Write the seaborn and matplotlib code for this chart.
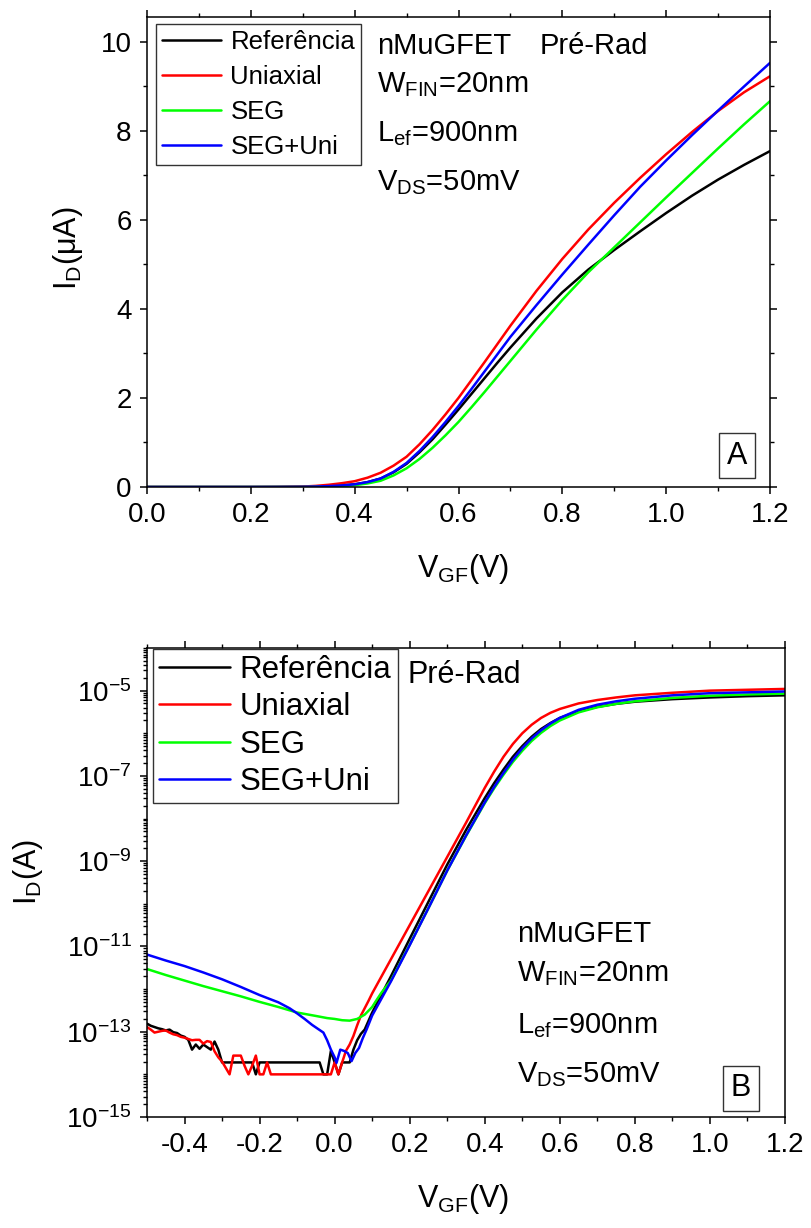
import numpy as np
import pandas as pd
import matplotlib
matplotlib.use("Agg")
import matplotlib.pyplot as plt
import matplotlib.ticker as mticker
from matplotlib.lines import Line2D
import seaborn as sns

# ---------------- data ----------------
labels = ["Referência", "Uniaxial", "SEG", "SEG+Uni"]
colors = ["#000000", "#ff0000", "#00ff00", "#0000ff"]

# Panel A : linear I_D (uA) vs V_GF (V)
vgf_lin = [0.00, 0.05, 0.10, 0.15, 0.20, 0.25, 0.30, 0.325, 0.35, 0.375, 0.40, 0.425, 0.45,
           0.475, 0.50, 0.525, 0.55, 0.575, 0.60, 0.625, 0.65, 0.675, 0.70, 0.75, 0.80,
           0.85, 0.90, 0.95, 1.00, 1.05, 1.10, 1.15, 1.20]
id_ref_lin = [0, 0, 0, 0, 0, 0.001, 0.004, 0.01, 0.02, 0.035, 0.06, 0.11, 0.19,
              0.33, 0.52, 0.78, 1.07, 1.40, 1.74, 2.09, 2.44, 2.79, 3.13, 3.78, 4.37,
              4.88, 5.32, 5.74, 6.15, 6.54, 6.90, 7.23, 7.54]
id_uni_lin = [0, 0, 0, 0, 0, 0.002, 0.01, 0.025, 0.05, 0.085, 0.13, 0.21, 0.32,
              0.48, 0.68, 0.96, 1.28, 1.63, 2.00, 2.40, 2.80, 3.21, 3.62, 4.40, 5.12,
              5.78, 6.38, 6.94, 7.47, 7.97, 8.44, 8.86, 9.22]
id_seg_lin = [0, 0, 0, 0, 0, 0.001, 0.002, 0.005, 0.01, 0.02, 0.04, 0.08, 0.14,
              0.26, 0.42, 0.63, 0.88, 1.16, 1.46, 1.79, 2.13, 2.48, 2.83, 3.53, 4.20,
              4.82, 5.38, 5.94, 6.50, 7.05, 7.60, 8.14, 8.66]
id_seguni_lin = [0, 0, 0, 0, 0, 0.001, 0.004, 0.01, 0.02, 0.035, 0.06, 0.11, 0.19,
                 0.34, 0.54, 0.81, 1.12, 1.46, 1.82, 2.20, 2.59, 2.98, 3.37, 4.08, 4.77,
                 5.44, 6.10, 6.74, 7.33, 7.90, 8.45, 8.99, 9.52]

# Panel B : log10 I_D (A) vs V_GF (V)
vgf_sub = np.round(np.arange(-0.50, 0.105, 0.01), 2)   # sweep grid, 61 points
log_ref_sub = [-12.81, -12.86, -12.89, -12.92, -12.94, -12.97, -12.95, -13.01, -13.03, -13.09,
               -13.12, -13.19, -13.42, -13.30, -13.40, -13.30, -13.36, -13.42, -13.23, -13.42,
               -13.72, -13.72, -13.72, -13.72, -13.72, -13.72, -13.72, -13.72, -13.72, -14.00,
               -13.72, -13.72, -13.72, -13.72, -13.72, -13.72, -13.72, -13.72, -13.72, -13.72,
               -13.72, -13.72, -13.72, -13.72, -13.72, -13.72, -13.72, -14.00, -14.00, -13.45,
               -13.72, -14.00, -13.72, -13.72, -13.72, -13.42, -13.20, -13.05, -12.95, -12.75,
               -12.55]
log_uni_sub = [-12.89, -12.95, -13.02, -13.00, -12.98, -12.97, -13.02, -13.06, -13.08, -13.12,
               -13.14, -13.17, -13.20, -13.19, -13.19, -13.28, -13.22, -13.24, -13.46, -13.60,
               -13.70, -13.85, -14.00, -13.56, -13.56, -13.56, -13.80, -14.00, -13.80, -13.56,
               -14.00, -14.00, -13.72, -14.00, -14.00, -14.00, -14.00, -14.00, -14.00, -14.00,
               -14.00, -14.00, -14.00, -14.00, -14.00, -14.00, -14.00, -14.00, -14.00, -14.00,
               -13.72, -14.00, -13.72, -13.45, -13.30, -13.10, -12.85, -12.62, -12.45, -12.28,
               -12.10]
vgf_seguni_sub = [-0.50, -0.45, -0.40, -0.35, -0.30, -0.25, -0.20, -0.15, -0.12, -0.10, -0.08,
                  -0.06, -0.04, -0.03, -0.02, -0.01, 0.00, 0.005, 0.015, 0.025, 0.035, 0.045,
                  0.055, 0.065, 0.075, 0.085, 0.10]
log_seguni_sub = [-11.19, -11.33, -11.46, -11.61, -11.77, -11.95, -12.14, -12.31, -12.45, -12.57,
                  -12.70, -12.84, -12.96, -13.02, -13.20, -13.42, -13.60, -13.73, -13.42, -13.45,
                  -13.50, -13.69, -13.50, -13.38, -13.15, -12.95, -12.62]
vgf_seg_sub = [-0.50, -0.45, -0.40, -0.35, -0.30, -0.25, -0.20, -0.15, -0.10, -0.05, -0.02,
               0.00, 0.02, 0.04, 0.06, 0.08, 0.10, 0.11, 0.125]
log_seg_sub = [-11.53, -11.67, -11.80, -11.93, -12.05, -12.17, -12.30, -12.42, -12.55, -12.63,
               -12.68, -12.70, -12.73, -12.74, -12.70, -12.60, -12.42, -12.28, -12.08]

vgf_on = [0.15, 0.20, 0.25, 0.30, 0.35, 0.40, 0.425, 0.45, 0.475, 0.50, 0.525, 0.55, 0.575,
          0.60, 0.65, 0.70, 0.75, 0.80, 0.90, 1.00, 1.10, 1.20]
log_ref_on = [-11.70, -10.82, -9.95, -9.08, -8.27, -7.52, -7.17, -6.85, -6.55, -6.30, -6.08,
              -5.90, -5.76, -5.64, -5.48, -5.38, -5.31, -5.26, -5.20, -5.16, -5.13, -5.11]
log_uni_on = [-11.30, -10.50, -9.70, -8.90, -8.10, -7.28, -6.90, -6.55, -6.25, -6.00, -5.80,
              -5.64, -5.52, -5.43, -5.30, -5.22, -5.16, -5.11, -5.05, -5.00, -4.98, -4.96]
log_seg_on = [-11.80, -10.96, -10.10, -9.22, -8.41, -7.64, -7.29, -6.97, -6.67, -6.41, -6.18,
              -5.99, -5.83, -5.70, -5.51, -5.39, -5.31, -5.25, -5.17, -5.12, -5.09, -5.07]
log_seguni_on = [-11.82, -10.97, -10.10, -9.22, -8.40, -7.62, -7.26, -6.93, -6.62, -6.35, -6.12,
                 -5.93, -5.77, -5.64, -5.45, -5.33, -5.25, -5.19, -5.11, -5.06, -5.04, -5.02]

# ---------------- tables ----------------
dfA = pd.concat([
    pd.DataFrame({"V": vgf_lin, "I": y, "Amostra": lab})
    for lab, y in zip(labels, [id_ref_lin, id_uni_lin, id_seg_lin, id_seguni_lin])
], ignore_index=True)

b_parts = [
    (labels[0], list(vgf_sub) + vgf_on, log_ref_sub + log_ref_on),
    (labels[1], list(vgf_sub) + vgf_on, log_uni_sub + log_uni_on),
    (labels[2], vgf_seg_sub + vgf_on, log_seg_sub + log_seg_on),
    (labels[3], vgf_seguni_sub + vgf_on, log_seguni_sub + log_seguni_on),
]
dfB = pd.concat([
    pd.DataFrame({"V": v, "I": 10.0 ** np.array(l), "Amostra": lab}) for lab, v, l in b_parts
], ignore_index=True)

# ---------------- style ----------------
sns.set_theme(style="ticks")
plt.rcParams.update({
    "font.family": ["Liberation Sans", "DejaVu Sans"],
    "mathtext.fontset": "custom",
    "mathtext.rm": "Liberation Sans",
    "mathtext.it": "Liberation Sans:italic",
    "mathtext.bf": "Liberation Sans:bold",
    "mathtext.default": "regular",
    "axes.unicode_minus": False,
    "axes.linewidth": 1.1,
    "axes.edgecolor": "black",
    "xtick.color": "black",
    "ytick.color": "black",
    "text.color": "black",
})
palette = dict(zip(labels, colors))
LW = 1.8

W, H = 811, 1228
fig = plt.figure(figsize=(W / 100, H / 100), dpi=100)
fig.patch.set_facecolor("white")

axA = fig.add_axes([147 / W, 1 - 487 / H, 623 / W, 470 / H])
axB = fig.add_axes([147 / W, 1 - 1117 / H, 638 / W, 469 / H])

sns.lineplot(data=dfA, x="V", y="I", hue="Amostra", hue_order=labels, palette=palette,
             estimator=None, linewidth=LW, legend=False, ax=axA)
sns.lineplot(data=dfB, x="V", y="I", hue="Amostra", hue_order=labels, palette=palette,
             estimator=None, linewidth=LW, legend=False, ax=axB)

for ax in (axA, axB):
    ax.set_xlabel("")
    ax.set_ylabel("")
    ax.set_facecolor("white")

# ---- panel A axes ----
axA.set_xlim(0, 1.2)
axA.set_ylim(0, 10.55)
axA.xaxis.set_major_locator(mticker.MultipleLocator(0.2))
axA.xaxis.set_minor_locator(mticker.MultipleLocator(0.1))
axA.xaxis.set_major_formatter(mticker.FuncFormatter(lambda v, p: f"{round(v, 1) + 0.0:.1f}"))
axA.yaxis.set_major_locator(mticker.MultipleLocator(2))
axA.yaxis.set_minor_locator(mticker.MultipleLocator(1))
axA.yaxis.set_major_formatter(mticker.FuncFormatter(lambda v, p: f"{v:.0f}"))
axA.tick_params(which="both", direction="out", top=True, right=True,
                labeltop=False, labelright=False)
axA.tick_params(which="major", length=5, width=1.1, labelsize=20, pad=6)
axA.tick_params(which="minor", length=2.8, width=1.0)

# ---- panel B axes ----
axB.set_yscale("log")
axB.set_xlim(-0.5, 1.2)
axB.set_ylim(1e-15, 1e-4)
axB.xaxis.set_major_locator(mticker.MultipleLocator(0.2))
axB.xaxis.set_minor_locator(mticker.MultipleLocator(0.1))
axB.xaxis.set_major_formatter(mticker.FuncFormatter(lambda v, p: f"{round(v, 1) + 0.0:.1f}"))
axB.yaxis.set_major_locator(mticker.FixedLocator([1e-15, 1e-13, 1e-11, 1e-9, 1e-7, 1e-5]))
axB.yaxis.set_major_formatter(mticker.FuncFormatter(
    lambda v, p: r"$\mathregular{10^{%d}}$" % int(round(np.log10(v)))))
axB.yaxis.set_minor_locator(mticker.LogLocator(base=10, subs=np.arange(1, 10), numticks=200))
axB.yaxis.set_minor_formatter(mticker.NullFormatter())
axB.tick_params(which="both", direction="out", top=True, right=False,
                labeltop=False, labelright=False)
axB.tick_params(which="major", length=5, width=1.1, labelsize=20, pad=6)
axB.tick_params(which="minor", length=2.8, width=1.0)

# ---- legends ----
handles = [Line2D([0], [0], color=c, lw=LW) for c in colors]
legA = axA.legend(handles, labels, loc="upper left", bbox_to_anchor=(0.0144, 0.985),
                  borderaxespad=0, fontsize=18.5, frameon=True, fancybox=False,
                  handlelength=2.3, handletextpad=0.38, labelspacing=0.43,
                  borderpad=0.22, framealpha=1)
legA.get_frame().set_edgecolor("#333333")
legA.get_frame().set_linewidth(1.0)

legB = axB.legend(handles, labels, loc="upper left", bbox_to_anchor=(0.0094, 0.998),
                  borderaxespad=0, fontsize=22.5, frameon=True, fancybox=False,
                  handlelength=2.25, handletextpad=0.33, labelspacing=0.23,
                  borderpad=0.2, framealpha=1)
legB.get_frame().set_edgecolor("#333333")
legB.get_frame().set_linewidth(1.0)

# ---- annotations ----
ann_fs = 21
axA.text(0.369, 0.9206, "nMuGFET", transform=axA.transAxes, fontsize=ann_fs, va="baseline")
axA.text(0.630, 0.9206, "Pré-Rad", transform=axA.transAxes, fontsize=ann_fs, va="baseline")
axA.text(0.369, 0.841, r"$\mathregular{W_{FIN}}$=20nm", transform=axA.transAxes,
         fontsize=ann_fs, va="baseline")
axA.text(0.369, 0.7347, r"$\mathregular{L_{ef}}$=900nm", transform=axA.transAxes,
         fontsize=ann_fs, va="baseline")
axA.text(0.369, 0.632, r"$\mathregular{V_{DS}}$=50mV", transform=axA.transAxes,
         fontsize=ann_fs, va="baseline")
axA.text(0.947, 0.067, "A", transform=axA.transAxes, fontsize=22, ha="center", va="center",
         bbox=dict(boxstyle="square,pad=0.25", fc="white", ec="#333333", lw=1.0))

axB.text(0.409, 0.925, "Pré-Rad", transform=axB.transAxes, fontsize=22, va="baseline")
axB.text(0.5795, 0.374, "nMuGFET", transform=axB.transAxes, fontsize=ann_fs, va="baseline")
axB.text(0.5795, 0.2885, r"$\mathregular{W_{FIN}}$=20nm", transform=axB.transAxes,
         fontsize=ann_fs, va="baseline")
axB.text(0.5795, 0.179, r"$\mathregular{L_{ef}}$=900nm", transform=axB.transAxes,
         fontsize=ann_fs, va="baseline")
axB.text(0.5795, 0.075, r"$\mathregular{V_{DS}}$=50mV", transform=axB.transAxes,
         fontsize=ann_fs, va="baseline")
axB.text(0.9307, 0.0612, "B", transform=axB.transAxes, fontsize=22, ha="center", va="center",
         bbox=dict(boxstyle="square,pad=0.25", fc="white", ec="#333333", lw=1.0))

# ---- axis labels ----
lab_fs = 22
fig.text(68 / W, 1 - 248 / H, r"$\mathregular{I_D}$(μA)", rotation=90, fontsize=lab_fs,
         ha="center", va="center")
fig.text(463 / W, 1 - 577 / H, r"$\mathregular{V_{GF}}$(V)", fontsize=lab_fs,
         ha="center", va="baseline")
fig.text(28 / W, 1 - 872 / H, r"$\mathregular{I_D}$(A)", rotation=90, fontsize=lab_fs,
         ha="center", va="center")
fig.text(463 / W, 1 - 1207 / H, r"$\mathregular{V_{GF}}$(V)", fontsize=lab_fs,
         ha="center", va="baseline")

fig.savefig("out.png", dpi=100, facecolor="white")
